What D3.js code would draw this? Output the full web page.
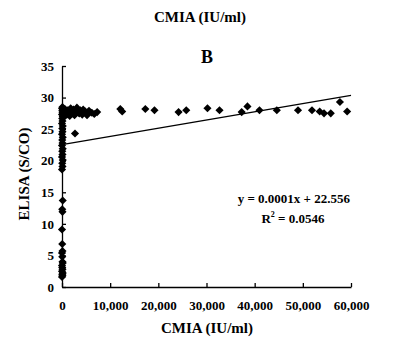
<!DOCTYPE html>
<html>
<head>
<meta charset="utf-8">
<script src="https://cdn.jsdelivr.net/npm/d3@7"></script>
<style>
  html, body { margin: 0; padding: 0; background: #fff; }
  svg { display: block; font-family: "Liberation Serif", "Times New Roman", serif; font-weight: bold; }
</style>
</head>
<body>
<div id="chart"></div>
<script>
// CMIA (IU/ml) vs ELISA (S/CO), panel B

// points hugging the y axis (very low CMIA)
const colCmia = [0, 100, 50, 150, 0, 100, 50, 0, 150, 100, 50, 0, 100, 50, 0, 100, 50, 150,
  0, 100, 50, 150, 0, 100, 50, 150, 0, 100, 50, 150, 0, 100, 50, 150, 0, 100, 50, 150, 0, 100, 50, 150, 0, 100];
const colElisa = [1.6, 1.8, 2.0, 2.2, 2.5, 2.8, 3.1, 3.4, 3.8, 4.0, 4.8, 5.4, 5.7, 6.8, 9.1, 11.9, 12.3, 13.7,
  18.6, 19.1, 19.6, 20.1, 20.6, 21.0, 21.5, 21.9, 22.4, 22.8, 23.3, 23.7, 24.2, 24.6, 25.1, 25.5, 25.9, 26.3,
  26.7, 27.0, 27.3, 27.6, 27.9, 28.1, 28.3, 28.5];

// cluster just off the axis
const clusterCmia = [300, 600, 900, 1200, 1500, 1800, 2100, 2400, 2700, 3100, 3400, 3800, 4200, 4400,
  4800, 5200, 5600, 6200, 6700, 7300, 500, 1000, 1600, 2000, 2600, 3000, 3600, 2700];
const clusterElisa = [27.6, 28.2, 27.4, 28.0, 27.7, 28.3, 27.5, 28.1, 27.9, 28.4, 27.6, 28.0, 27.3, 28.1,
  27.8, 27.2, 27.9, 27.6, 27.4, 27.7, 27.0, 27.3, 27.1, 27.5, 27.2, 27.8, 27.5, 24.3];

// scattered high CMIA samples
const highCmia = [12100, 12500, 17300, 19200, 24200, 25800, 30200, 32700, 37300, 38500, 41000,
  44600, 49000, 51900, 53500, 54400, 55800, 57700, 59200];
const highElisa = [28.2, 27.8, 28.2, 28.0, 27.7, 28.0, 28.3, 28.0, 27.7, 28.6, 28.0,
  28.0, 28.0, 28.0, 27.8, 27.5, 27.5, 29.3, 27.8];

// trendline as drawn (label shows rounded coefficients)
const fitIntercept = 22.556;
const fitSlope = 0.00013;
const eqLabel = "y = 0.0001x + 22.556";
const r2Value = "0.0546";

const xTicks = [0, 10000, 20000, 30000, 40000, 50000, 60000];
const yTicks = [0, 5, 10, 15, 20, 25, 30, 35];

const points = [];
colCmia.forEach((c, i) => points.push({ x: c, y: colElisa[i] }));
clusterCmia.forEach((c, i) => points.push({ x: c, y: clusterElisa[i] }));
highCmia.forEach((c, i) => points.push({ x: c, y: highElisa[i] }));

const W = 399, H = 352;
const L = 62, R = 351, T = 66, B = 287;

const svg = d3.select('#chart').append('svg')
  .attr('width', W).attr('height', H);

const x = d3.scaleLinear().domain([0, 60000]).range([L, R]);
const y = d3.scaleLinear().domain([0, 35]).range([B, T]);

// top title
svg.append('text')
  .attr('x', 200).attr('y', 22)
  .attr('text-anchor', 'middle').attr('font-size', 15)
  .text('CMIA (IU/ml)');

// panel letter
svg.append('text')
  .attr('x', 207).attr('y', 63)
  .attr('text-anchor', 'middle').attr('font-size', 18)
  .text('B');

// axes
const xAxis = d3.axisBottom(x).tickValues(xTicks).tickSize(-4).tickSizeOuter(0)
  .tickFormat(d3.format(','));
const gx = svg.append('g').attr('transform', `translate(0,${B})`).call(xAxis);
gx.select('.domain').attr('stroke', '#000').attr('stroke-width', 1.3);
gx.selectAll('.tick line').attr('stroke', '#000').attr('stroke-width', 1.3);
gx.selectAll('.tick text')
  .attr('y', 18).attr('dy', '0.35em')
  .attr('font-size', 13).attr('font-family', 'Liberation Serif, serif').attr('font-weight', 'bold')
  .attr('fill', '#000');

const yAxis = d3.axisLeft(y).tickValues(yTicks).tickSize(-4).tickSizeOuter(0);
const gy = svg.append('g').attr('transform', `translate(${L},0)`).call(yAxis);
gy.select('.domain').attr('stroke', '#000').attr('stroke-width', 1.3);
gy.selectAll('.tick line').attr('stroke', '#000').attr('stroke-width', 1.3);
gy.selectAll('.tick text')
  .attr('x', -8)
  .attr('font-size', 13).attr('font-family', 'Liberation Serif, serif').attr('font-weight', 'bold')
  .attr('fill', '#000');

// trendline
svg.append('line')
  .attr('x1', x(0)).attr('y1', y(fitIntercept))
  .attr('x2', x(60000)).attr('y2', y(fitIntercept + fitSlope * 60000))
  .attr('stroke', '#000').attr('stroke-width', 1.4);

// diamonds
const diamond = d3.symbol().type(d3.symbolDiamond2).size(42);
svg.append('g').selectAll('path')
  .data(points)
  .join('path')
  .attr('transform', d => `translate(${x(d.x)},${y(d.y)})`)
  .attr('d', diamond)
  .attr('fill', '#000');

// equation
svg.append('text')
  .attr('x', 350).attr('y', 203)
  .attr('text-anchor', 'end').attr('font-size', 13)
  .text(eqLabel);
const r2 = svg.append('text')
  .attr('x', 293).attr('y', 223)
  .attr('text-anchor', 'middle').attr('font-size', 13);
r2.append('tspan').text('R');
r2.append('tspan').attr('font-size', 8).attr('dy', -6).text('2');
r2.append('tspan').attr('dy', 6).text(' = ' + r2Value);

// axis labels
svg.append('text')
  .attr('x', 207).attr('y', 333)
  .attr('text-anchor', 'middle').attr('font-size', 15)
  .text('CMIA (IU/ml)');

svg.append('text')
  .attr('transform', `translate(29,174) rotate(-90)`)
  .attr('text-anchor', 'middle').attr('font-size', 15)
  .text('ELISA (S/CO)');
</script>
</body>
</html>
